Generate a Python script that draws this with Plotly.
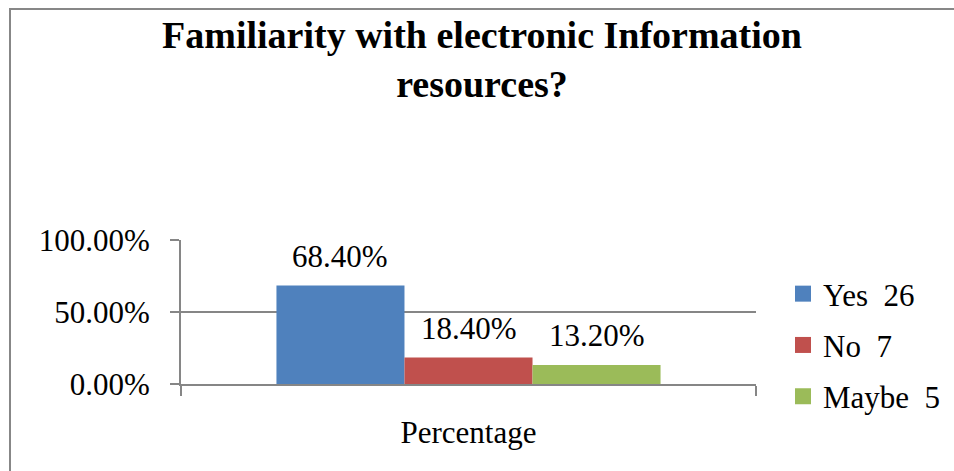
import plotly.graph_objects as go

category = ["Percentage"]
series_names = ["Yes  26", "No  7", "Maybe  5"]
series_values = [0.684, 0.184, 0.132]
series_colors = ["#4F81BD", "#C0504D", "#9BBB59"]
y_ticks = [0, 0.5, 1.0]
title_text = "Familiarity with electronic Information<br>resources?"

FONT = "Times New Roman, Liberation Serif, serif"
GRID = "#868686"

W, H = 954, 471
L, R, T, B = 181, 198, 240, 87
BARGAP = 0.332

fig = go.Figure()
for name, val, col in zip(series_names, series_values, series_colors):
    fig.add_trace(go.Bar(
        x=category, y=[val], name=name, legendgroup=name, showlegend=False,
        marker=dict(color=col, line=dict(width=0)),
        cliponaxis=False,
    ))
# legend entries with larger square swatches, linked to the bars
for name, col in zip(series_names, series_colors):
    fig.add_trace(go.Scatter(
        x=[None], y=[None], name=name, legendgroup=name, mode="markers",
        marker=dict(symbol="square", size=16, color=col, line=dict(width=0)),
        hoverinfo="skip",
    ))

# data labels above each bar, positioned in category-axis units
n = len(series_values)
bw = (1 - BARGAP) / n
for i, val in enumerate(series_values):
    fig.add_annotation(
        x=-(1 - BARGAP) / 2 + bw * (i + 0.5), y=val, xref="x", yref="y",
        text=f"{val * 100:.2f}%", showarrow=False, yanchor="bottom", yshift=10,
        font=dict(family=FONT, size=31, color="black"),
    )

pw = W - L - R
ph = H - T - B
fig.add_shape(type="rect", xref="paper", yref="paper",
              x0=(10 - L) / pw, x1=(W + 10 - L) / pw,
              y0=-(H + 10 - T - ph) / ph, y1=1 + (T - 9) / ph,
              line=dict(color="#878787", width=2), fillcolor="rgba(0,0,0,0)", layer="below")

fig.update_layout(
    width=W, height=H,
    margin=dict(l=L, r=R, t=T, b=B, pad=0, autoexpand=False),
    paper_bgcolor="white", plot_bgcolor="white",
    barmode="group", bargap=BARGAP, bargroupgap=0,
    title=dict(text=title_text, x=482 / W, xanchor="center", y=1 - 48 / H, yanchor="top",
               font=dict(family=FONT, size=38, color="black", weight="bold")),
    font=dict(family=FONT, size=31, color="black"),
    showlegend=True,
    legend=dict(xref="container", yref="container",
                x=783 / W, xanchor="left", y=1 - 345 / H, yanchor="middle",
                font=dict(family=FONT, size=31, color="black"),
                tracegroupgap=8, bgcolor="rgba(0,0,0,0)", maxheight=1),
    xaxis=dict(type="category", showline=True, linecolor=GRID, linewidth=2,
               ticks="outside", tickson="boundaries", ticklen=10, tickcolor=GRID, tickwidth=2,
               showgrid=False, ticklabelstandoff=20, tickfont=dict(family=FONT, size=31)),
    yaxis=dict(range=[0, 1], tickvals=y_ticks, tickformat=".2%",
               showline=True, linecolor=GRID, linewidth=2,
               ticks="outside", ticklen=9, tickcolor=GRID, tickwidth=2,
               showgrid=True, gridcolor=GRID, gridwidth=2, zeroline=False,
               ticklabelstandoff=14, tickfont=dict(family=FONT, size=31)),
)

fig.write_html("out.html")
